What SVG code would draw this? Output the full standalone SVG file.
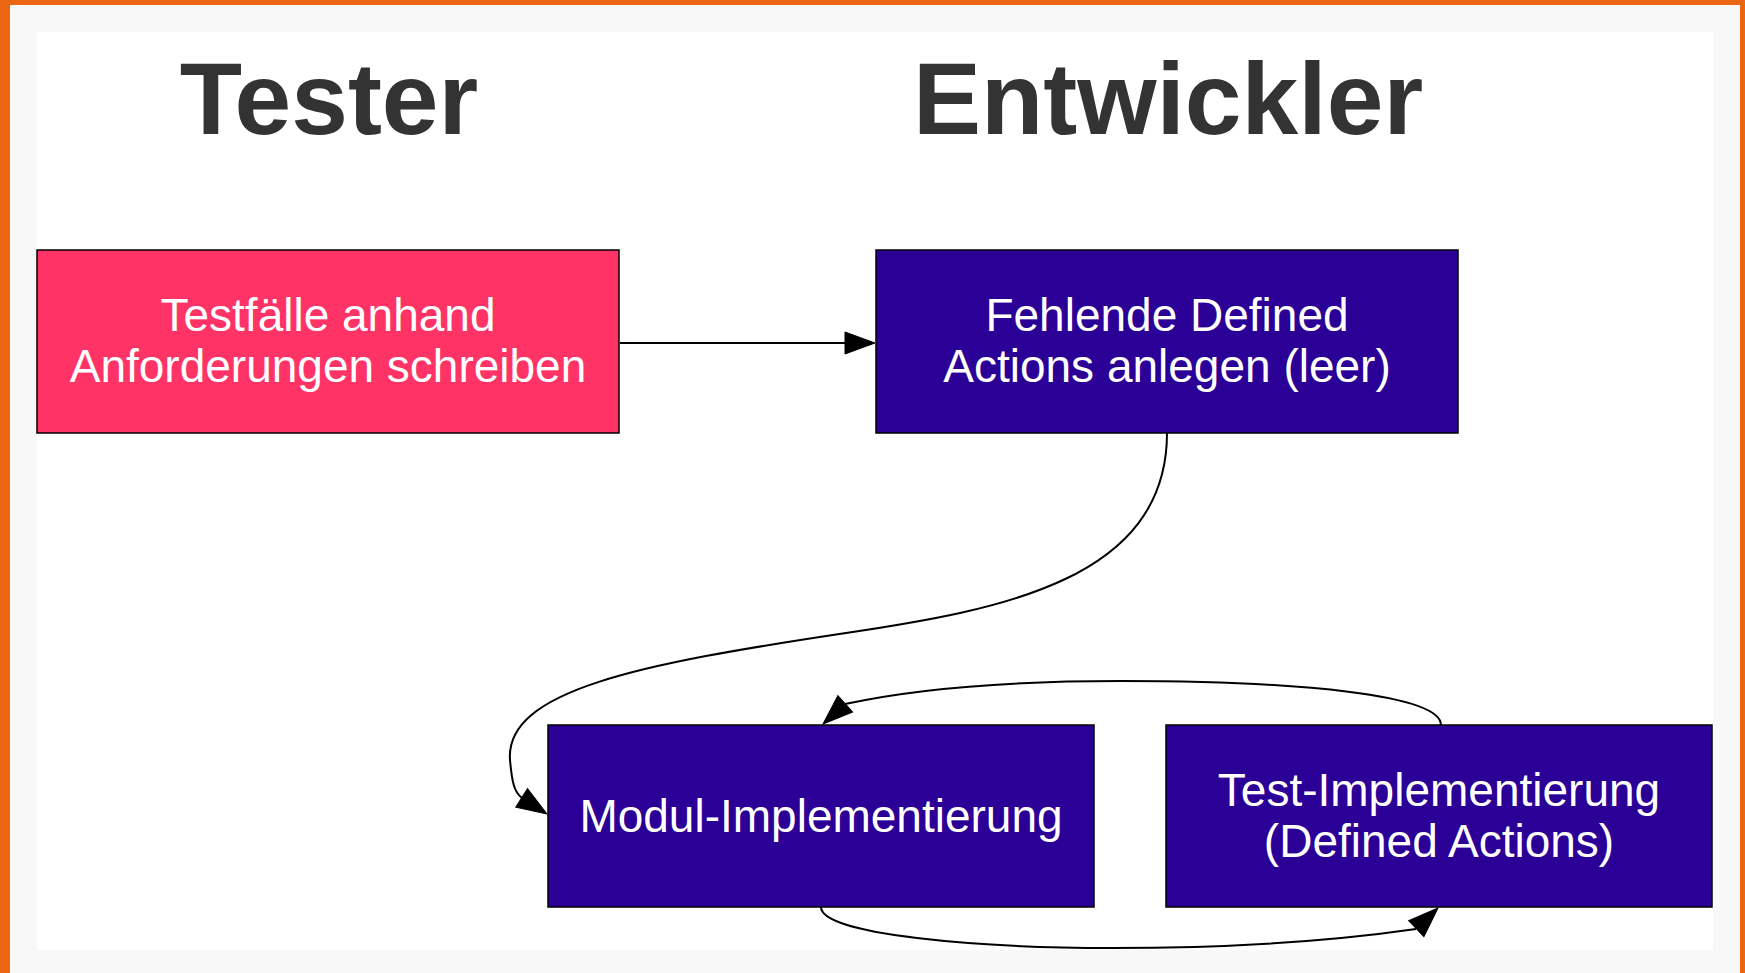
<svg xmlns="http://www.w3.org/2000/svg" width="1745" height="973" viewBox="0 0 1745 973">
  <style>
    .title { font-family: "Liberation Sans", Arial, sans-serif; font-weight: bold; font-size: 102px; fill: #333333; text-anchor: middle; }
    .box { stroke: #000000; stroke-width: 1.5; }
    .pink { fill: #ff3366; }
    .purple { fill: #2b0097; }
    .label { font-family: "Liberation Sans", Arial, sans-serif; font-size: 46px; fill: #ffffff; text-anchor: middle; }
    .edge { fill: none; stroke: #000000; stroke-width: 2; }
    .head { fill: #000000; stroke: #000000; stroke-width: 1; }
  </style>
  <defs>
    <path id="arrow" d="M0,0 L-30,-11 L-30,11 Z"/>
  </defs>

  <!-- frame -->
  <rect x="0" y="0" width="1745" height="973" fill="#ec6512"/>
  <rect x="10" y="5" width="1730" height="968" fill="#f8f8f8"/>
  <rect x="37" y="32" width="1676" height="918" fill="#ffffff"/>

  <!-- titles -->
  <text class="title" x="329" y="134">Tester</text>
  <text class="title" x="1168" y="134">Entwickler</text>

  <!-- connectors -->
  <g id="connectors">
    <path class="edge" d="M620,343 L846,343"/>
    <use href="#arrow" class="head" transform="translate(875,343)"/>

    <path class="edge" d="M1167,433 C1167,580 1000,610 846,633 C640,664 505,690 510,760 C512,782 514,792 522,798"/>
    <use href="#arrow" class="head" transform="translate(547,814) rotate(32.3)"/>

    <path class="edge" d="M1441,725 C1441,695 1300,681 1121,681 C990,681 900,692 845,704"/>
    <use href="#arrow" class="head" transform="translate(823,724) rotate(137.9)"/>

    <path class="edge" d="M821,907 C821,935 980,948 1112,948 C1250,948 1340,940 1416,929"/>
    <use href="#arrow" class="head" transform="translate(1438,908) rotate(-43.7)"/>
  </g>

  <!-- nodes -->
  <g id="node-testfaelle">
    <rect class="box pink" x="37" y="250" width="582" height="183"/>
    <text class="label" x="328" y="331">Testfälle anhand</text>
    <text class="label" x="328" y="382">Anforderungen schreiben</text>
  </g>
  <g id="node-fehlende">
    <rect class="box purple" x="876" y="250" width="582" height="183"/>
    <text class="label" x="1167" y="331">Fehlende Defined</text>
    <text class="label" x="1167" y="382">Actions anlegen (leer)</text>
  </g>
  <g id="node-modul">
    <rect class="box purple" x="548" y="725" width="546" height="182"/>
    <text class="label" x="821" y="832">Modul-Implementierung</text>
  </g>
  <g id="node-test">
    <rect class="box purple" x="1166" y="725" width="546" height="182"/>
    <text class="label" x="1439" y="806">Test-Implementierung</text>
    <text class="label" x="1439" y="857">(Defined Actions)</text>
  </g>
</svg>
